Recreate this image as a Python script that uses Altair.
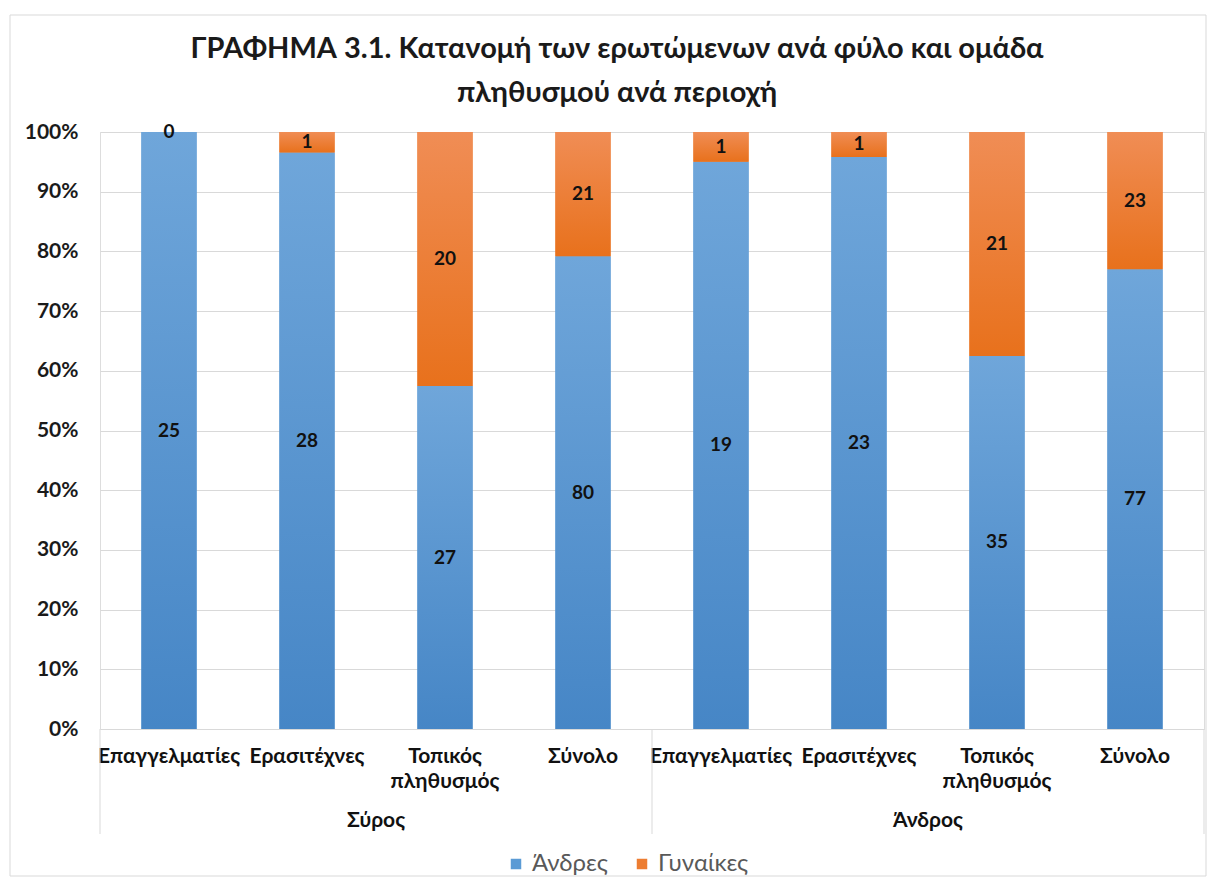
import altair as alt
import pandas as pd

groups = ["Σύρος", "Άνδρος"]
categories = ["Επαγγελματίες", "Ερασιτέχνες", "Τοπικός\nπληθυσμός", "Σύνολο"]
series = ["Άνδρες", "Γυναίκες"]
men = [25, 28, 27, 80, 19, 23, 35, 77]
women = [0, 1, 20, 21, 1, 1, 21, 23]
y_ticks = [0, 0.1, 0.2, 0.3, 0.4, 0.5, 0.6, 0.7, 0.8, 0.9, 1.0]

FONT = "Lato"
W, H = 1104, 597

keys, rows, cat_rows = [], [], []
for gi, g in enumerate(groups):
    for ci, c in enumerate(categories):
        k = f"{gi}-{ci}"
        keys.append(k)
        cat_rows.append({"key": k, "cat": c, "group": g, "ci": ci})
for i, k in enumerate(keys):
    rows.append({"key": k, "sex": series[0], "so": 0, "value": men[i]})
    rows.append({"key": k, "sex": series[1], "so": 1, "value": women[i]})

df = pd.DataFrame(rows)
cats = pd.DataFrame(cat_rows)
grp = cats[cats["ci"] == 1].copy()
seps_start = pd.DataFrame({"key": [keys[0], keys[4]]})
seps_end = pd.DataFrame({"key": [keys[7]]})

xscale = alt.Scale(domain=keys, paddingInner=0, paddingOuter=0)
colors = ["#5B9BD5", "#ED7D31"]

stacked = alt.Chart(df).transform_stack(
    stack="value", groupby=["key"], as_=["y0", "y1"], offset="normalize",
    sort=[alt.SortField("so", order="ascending")]
).transform_calculate(mid="(datum.y0 + datum.y1) / 2")

yenc = alt.Y("y0:Q", scale=alt.Scale(domain=[0, 1]),
             axis=alt.Axis(values=y_ticks, format=".0%", title=None, domain=False, ticks=False,
                           labelFont=FONT, labelFontSize=21, labelFontWeight="bold",
                           labelColor="#1a1a1a", labelPadding=22,
                           gridColor="#d9d9d9", gridWidth=1))
xenc = alt.X("key:N", scale=xscale, axis=None)

base_bars = stacked.mark_bar(width=alt.RelativeBandSize(0.4)).encode(
    x=xenc, y=yenc, y2="y1:Q",
    color=alt.Color("sex:N", scale=alt.Scale(domain=series, range=colors),
                    legend=alt.Legend(title=None, orient="none", direction="horizontal",
                                      legendX=404, legendY=720, symbolType="square",
                                      symbolSize=110, labelFont=FONT, labelFontSize=24,
                                      labelColor="#595959", columnPadding=22,
                                      symbolStrokeWidth=0)),
)

def grad(top, bottom):
    return alt.LinearGradient(gradient="linear", x1=0, y1=0, x2=0, y2=1,
                              stops=[alt.GradientStop(color=top, offset=0),
                                     alt.GradientStop(color=bottom, offset=1)])

men_bars = stacked.transform_filter(alt.datum.so == 0).mark_bar(
    width=alt.RelativeBandSize(0.4), color=grad("#6fa6da", "#4686c6")
).encode(x=xenc, y=alt.Y("y0:Q"), y2="y1:Q")
women_bars = stacked.transform_filter(alt.datum.so == 1).mark_bar(
    width=alt.RelativeBandSize(0.4), color=grad("#f08d55", "#e8711c")
).encode(x=xenc, y=alt.Y("y0:Q"), y2="y1:Q")

value_labels = stacked.mark_text(font=FONT, fontSize=19, fontWeight="bold",
                                 color="#111111", baseline="middle").encode(
    x=xenc, y=alt.Y("mid:Q"), text="value:Q")

cat_labels = alt.Chart(cats).mark_text(font=FONT, fontSize=21, fontWeight="bold",
                                       color="#111111", baseline="top", lineBreak="\n",
                                       lineHeight=25).encode(
    x=xenc, y=alt.value(H + 17), text="cat:N")

grp_labels = alt.Chart(grp).mark_text(font=FONT, fontSize=21, fontWeight="bold",
                                      color="#111111", baseline="top").encode(
    x=alt.X("key:N", scale=xscale, axis=None, bandPosition=1),
    y=alt.value(H + 81), text="group:N")

sep_rules = alt.Chart(seps_start).mark_rule(color="#d9d9d9", strokeWidth=1).encode(
    x=alt.X("key:N", scale=xscale, axis=None, bandPosition=0),
    y=alt.value(H), y2=alt.value(H + 105))
sep_end = alt.Chart(seps_end).mark_rule(color="#d9d9d9", strokeWidth=1).encode(
    x=alt.X("key:N", scale=xscale, axis=None, bandPosition=1),
    y=alt.value(H), y2=alt.value(H + 105))

frame = alt.Chart(pd.DataFrame({"k": [0]})).mark_rect(
    fill=None, stroke="#d9d9d9", strokeWidth=1).encode(
    x=alt.value(-90), x2=alt.value(W + 2), y=alt.value(-117), y2=alt.value(744))

chart = alt.layer(
    frame, base_bars, men_bars, women_bars, value_labels, cat_labels, grp_labels,
    sep_rules, sep_end
).properties(
    width=W, height=H,
    autosize=alt.AutoSizeParams(type="none"),
    padding={"left": 92, "top": 124, "right": 4, "bottom": 148},
    title=alt.TitleParams(
        text=["ΓΡΑΦΗΜΑ 3.1. Κατανομή των ερωτώμενων ανά φύλο και ομάδα",
              "πληθυσμού ανά περιοχή"],
        font=FONT, fontSize=29, fontWeight="bold", color="#1a1a1a",
        anchor="middle", dx=-35, offset=-93, lineHeight=44),
).configure_view(stroke=None).configure(background="white")

chart.save("out.html", embed_options={"renderer": "svg", "actions": False})
